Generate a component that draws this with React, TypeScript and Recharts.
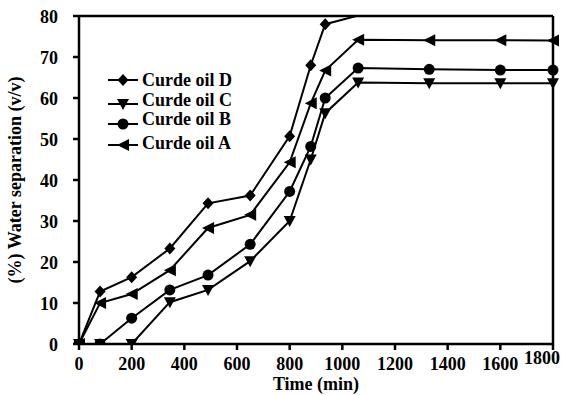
import React from 'react';
import { LineChart, Line, XAxis, YAxis, ReferenceLine } from 'recharts';

const times = [0, 80, 200, 345, 490, 650, 800, 880, 935, 1060, 1330, 1600, 1800];
const oilD = [0, 12.8, 16.3, 23.3, 34.3, 36.2, 50.7, 68, 78, 80.1, 81, 81, 81];
const oilC = [0, 0, 0, 10.2, 13.2, 20.2, 30, 45, 56.3, 63.8, 63.6, 63.6, 63.6];
const oilB = [0, 0, 6.3, 13.2, 16.8, 24.3, 37.2, 48.2, 60, 67.3, 67, 66.8, 66.8];
const oilA = [0, 10, 12.2, 18, 28.3, 31.5, 44.3, 58.7, 66.7, 74.2, 74.1, 74.1, 74];
const xTicks = [0, 200, 400, 600, 800, 1000, 1200, 1400, 1600, 1800];
const yTicks = [0, 10, 20, 30, 40, 50, 60, 70, 80];

const data = times.map((t, i) => ({ t, D: oilD[i], C: oilC[i], B: oilB[i], A: oilA[i] }));

const FONT = '"Liberation Serif", "DejaVu Serif", serif';

type Shape = 'diamond' | 'down' | 'circle' | 'left';

function marker(shape: Shape, cx: number, cy: number, key?: string) {
  const s = 6;
  if (shape === 'circle') return <circle key={key} cx={cx} cy={cy} r={5.5} fill="#000" />;
  if (shape === 'diamond')
    return <path key={key} d={`M${cx},${cy - s} L${cx + s - 0.5},${cy} L${cx},${cy + s} L${cx - s + 0.5},${cy} Z`} fill="#000" />;
  if (shape === 'down')
    return <path key={key} d={`M${cx - s},${cy - s + 1} L${cx + s},${cy - s + 1} L${cx},${cy + s} Z`} fill="#000" />;
  return <path key={key} d={`M${cx - s},${cy} L${cx + s},${cy - s} L${cx + s},${cy + s} Z`} fill="#000" />;
}

const makeDot = (shape: Shape) => (props: any) => {
  const { cx, cy, index, value } = props;
  const v = Array.isArray(value) ? value[1] : value;
  if (cx == null || cy == null || v > 80) return <g key={`n${shape}${index}`} />;
  return marker(shape, cx, cy, `${shape}-${index}`);
};

const series: { key: string; name: string; shape: Shape }[] = [
  { key: 'D', name: 'Curde oil D', shape: 'diamond' },
  { key: 'C', name: 'Curde oil C', shape: 'down' },
  { key: 'B', name: 'Curde oil B', shape: 'circle' },
  { key: 'A', name: 'Curde oil A', shape: 'left' },
];

const legendLineY = [15, 39, 59, 80];
const legendTextY = [15, 35, 54, 78];

const LegendBox = () => (
  <svg width={170} height={100} style={{ position: 'absolute', left: 106, top: 65 }}>
    {series.map((s, i) => {
      const y = legendLineY[i];
      return (
        <g key={s.key}>
          <line x1={2} x2={32} y1={y} y2={y} stroke="#000" strokeWidth={2} />
          {marker(s.shape, 17, y)}
          <text x={36} y={legendTextY[i] + 6} fontFamily={FONT} fontSize={18} fontWeight="bold" fill="#000">
            {s.name}
          </text>
        </g>
      );
    })}
  </svg>
);

const XTick = (props: any) => {
  const { x, y, payload } = props;
  const last = payload.value === 1800;
  return (
    <text x={x + (last ? -11 : 0)} y={y + 18 + (last ? -6 : 0)} textAnchor="middle" fontFamily={FONT} fontSize={18} fontWeight="bold" fill="#000">
      {payload.value}
    </text>
  );
};

const YTick = (props: any) => {
  const { x, y, payload } = props;
  return (
    <text x={x - 13} y={y + 7} textAnchor="end" fontFamily={FONT} fontSize={18} fontWeight="bold" fill="#000">
      {payload.value}
    </text>
  );
};

export default function App() {
  return (
    <div style={{ position: 'absolute', left: 0, top: 0, width: 564, height: 395, background: '#fff' }}>
      <LineChart width={564} height={395} data={data} margin={{ top: 16, right: 11, left: 0, bottom: 0 }}>
        <XAxis
          dataKey="t"
          type="number"
          domain={[0, 1800]}
          ticks={xTicks}
          interval={0}
          height={51}
          stroke="#000"
          strokeWidth={2.5}
          tickSize={6}
          tick={<XTick />}
          label={{
            value: 'Time (min)',
            position: 'insideBottom',
            offset: 5,
            style: { fontFamily: FONT, fontSize: 18, fontWeight: 'bold', fill: '#000' },
          }}
        />
        <YAxis
          domain={[0, 80]}
          allowDataOverflow
          ticks={yTicks}
          interval={0}
          width={79}
          stroke="#000"
          strokeWidth={2.5}
          tickSize={6}
          tick={<YTick />}
          label={{
            value: '(%) Water separation (v/v)',
            angle: -90,
            position: 'insideLeft',
            offset: 15,
            style: { fontFamily: FONT, fontSize: 18, fontWeight: 'bold', fill: '#000', textAnchor: 'middle' },
          }}
        />
        <ReferenceLine y={80} stroke="#000" strokeWidth={2.5} ifOverflow="extendDomain" />
        <ReferenceLine x={1800} stroke="#000" strokeWidth={2.5} ifOverflow="extendDomain" />
        {series.map((s) => (
          <Line
            key={s.key}
            dataKey={s.key}
            name={s.name}
            stroke="#000"
            strokeWidth={2}
            dot={makeDot(s.shape)}
            activeDot={false}
            isAnimationActive={false}
          />
        ))}
      </LineChart>
      <LegendBox />
    </div>
  );
}
